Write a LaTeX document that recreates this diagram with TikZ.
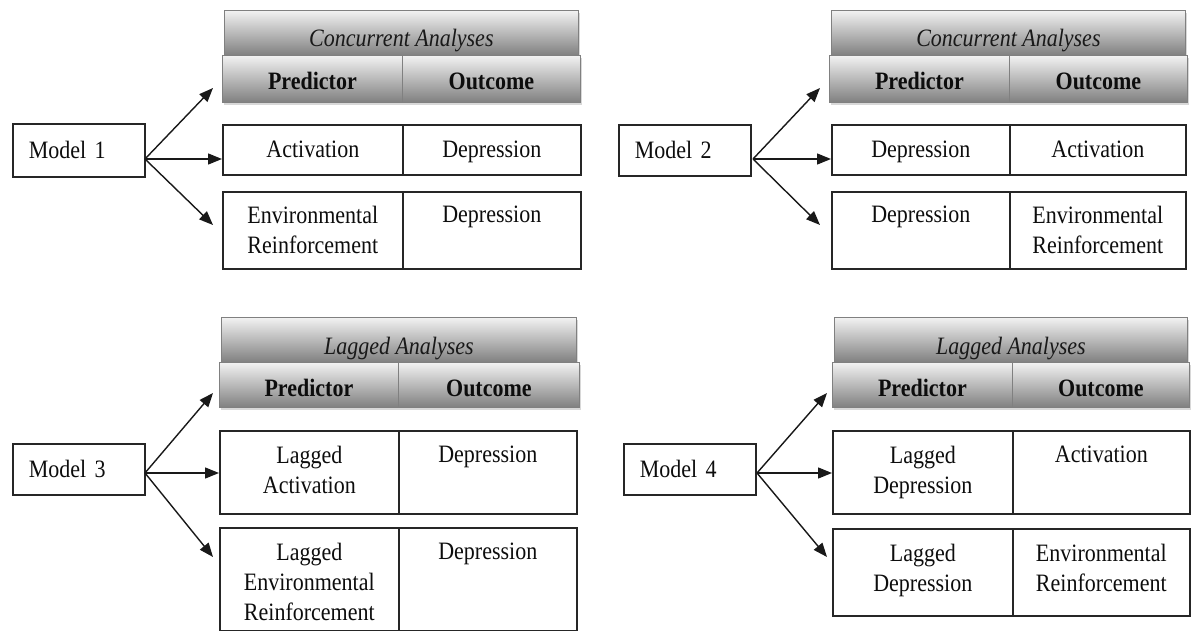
\documentclass[tikz,border=0pt]{standalone}
\usepackage{fontspec}
\setmainfont{Liberation Serif}[FakeStretch=0.88]
\usetikzlibrary{arrows.meta,shadows}
\tikzset{
  cell/.style={draw=black!85, line width=1.6pt, rectangle, inner sep=0pt, anchor=north west},
  hdr/.style={draw=black!50, line width=0.8pt, rectangle, inner sep=0pt, anchor=north west,
    top color=black!5, bottom color=black!50,
    drop shadow={shadow xshift=2pt, shadow yshift=-3pt, opacity=0.3}},
  txt/.style={font=\fontsize{25}{30}\selectfont, text=black!95, align=center, inner sep=0pt, anchor=north},
  htxt/.style={font=\fontsize{25}{30}\selectfont\bfseries, text=black!95, inner sep=0pt, anchor=base},
  ttxt/.style={font=\fontsize{25}{30}\selectfont\itshape, text=black!90, inner sep=0pt, anchor=base},
  model/.style={draw=black!85, line width=1.6pt, rectangle, anchor=north west,
    minimum width=132pt, text width=100pt, inner xsep=16pt, inner ysep=0pt, align=left,
    font=\fontsize{25}{30}\selectfont, text=black!95},
  arr/.style={line width=1.4pt, draw=black!90, -{Triangle[length=14pt,width=11pt]}}
}
\begin{document}
\begin{tikzpicture}[x=1pt,y=-1pt]
\useasboundingbox (0,0) rectangle (1193,631);
\fill[white] (0,0) rectangle (1193,631);

% ---------------- Panel 1 ----------------
\node[model, minimum height=53pt] (m1) at (12,123) {Model 1};
\node[hdr, minimum width=354pt, minimum height=45pt] (t1) at (224,10) {};
\node[ttxt] (t1x) at ([yshift=-37pt]t1.north) {Concurrent Analyses};
\node[hdr, minimum width=180pt, minimum height=47pt] (h1a) at (222,55) {};
\node[hdr, minimum width=178pt, minimum height=47pt] (h1b) at (402,55) {};
\node[htxt] (h1ax) at ([yshift=-35pt]h1a.north) {Predictor};
\node[htxt] (h1bx) at ([yshift=-35pt]h1b.north) {Outcome};
\node[cell, minimum width=180pt, minimum height=50pt] (r1a) at (222,124) {};
\node[cell, minimum width=178pt, minimum height=50pt] (r1b) at (402,124) {};
\node[cell, minimum width=180pt, minimum height=77pt] (s1a) at (222,191) {};
\node[cell, minimum width=178pt, minimum height=77pt] (s1b) at (402,191) {};
\node[txt] (r1ax) at ([yshift=-17pt]r1a.north) {Activation};
\node[txt] (r1bx) at ([yshift=-17pt]r1b.north) {Depression};
\node[txt] (s1ax) at ([yshift=-15pt]s1a.north) {Environmental\\Reinforcement};
\node[txt] (s1bx) at ([yshift=-15pt]s1b.north) {Depression};
\coordinate (o1) at (145,159);
\coordinate (u1) at (213,88);
\coordinate (d1) at (213,225);
\draw[arr] (o1) -- (u1);
\draw[arr] (o1) -- (o1 -| r1a.west);
\draw[arr] (o1) -- (d1);

% ---------------- Panel 2 ----------------
\node[model, minimum height=51pt] (m2) at (618,124) {Model 2};
\node[hdr, minimum width=354pt, minimum height=45pt] (t2) at (831,10) {};
\node[ttxt] (t2x) at ([yshift=-37pt]t2.north) {Concurrent Analyses};
\node[hdr, minimum width=180pt, minimum height=47pt] (h2a) at (829,55) {};
\node[hdr, minimum width=178pt, minimum height=47pt] (h2b) at (1009,55) {};
\node[htxt] (h2ax) at ([yshift=-35pt]h2a.north) {Predictor};
\node[htxt] (h2bx) at ([yshift=-35pt]h2b.north) {Outcome};
\node[cell, minimum width=178pt, minimum height=50pt] (r2a) at (831,124) {};
\node[cell, minimum width=176pt, minimum height=50pt] (r2b) at (1009,124) {};
\node[cell, minimum width=178pt, minimum height=77pt] (s2a) at (831,191) {};
\node[cell, minimum width=176pt, minimum height=77pt] (s2b) at (1009,191) {};
\node[txt] (r2ax) at ([yshift=-17pt]r2a.north) {Depression};
\node[txt] (r2bx) at ([yshift=-17pt]r2b.north) {Activation};
\node[txt] (s2ax) at ([yshift=-15pt]s2a.north) {Depression};
\node[txt] (s2bx) at ([yshift=-15pt]s2b.north) {Environmental\\Reinforcement};
\coordinate (o2) at (753,159);
\coordinate (u2) at (820,88);
\coordinate (d2) at (820,225);
\draw[arr] (o2) -- (u2);
\draw[arr] (o2) -- (o2 -| r2a.west);
\draw[arr] (o2) -- (d2);

% ---------------- Panel 3 ----------------
\node[model, minimum height=51pt] (m3) at (12,443) {Model 3};
\node[hdr, minimum width=355pt, minimum height=45pt] (t3) at (221,317) {};
\node[ttxt] (t3x) at ([yshift=-37pt]t3.north) {Lagged Analyses};
\node[hdr, minimum width=179pt, minimum height=45pt] (h3a) at (219,362) {};
\node[hdr, minimum width=181pt, minimum height=45pt] (h3b) at (398,362) {};
\node[htxt] (h3ax) at ([yshift=-34pt]h3a.north) {Predictor};
\node[htxt] (h3bx) at ([yshift=-34pt]h3b.north) {Outcome};
\node[cell, minimum width=179pt, minimum height=83pt] (r3a) at (219,430) {};
\node[cell, minimum width=178pt, minimum height=83pt] (r3b) at (398,430) {};
\node[cell, minimum width=179pt, minimum height=103pt] (s3a) at (219,527) {};
\node[cell, minimum width=178pt, minimum height=103pt] (s3b) at (398,527) {};
\node[txt] (r3ax) at ([yshift=-16pt]r3a.north) {Lagged\\Activation};
\node[txt] (r3bx) at ([yshift=-16pt]r3b.north) {Depression};
\node[txt] (s3ax) at ([yshift=-16pt]s3a.north) {Lagged\\Environmental\\Reinforcement};
\node[txt] (s3bx) at ([yshift=-16pt]s3b.north) {Depression};
\coordinate (o3) at (145,473);
\coordinate (u3) at (213,393);
\coordinate (d3) at (213,557);
\draw[arr] (o3) -- (u3);
\draw[arr] (o3) -- (o3 -| r3a.west);
\draw[arr] (o3) -- (d3);

% ---------------- Panel 4 ----------------
\node[model, minimum height=51pt] (m4) at (623,443) {Model 4};
\node[hdr, minimum width=353pt, minimum height=45pt] (t4) at (834,317) {};
\node[ttxt] (t4x) at ([yshift=-37pt]t4.north) {Lagged Analyses};
\node[hdr, minimum width=180pt, minimum height=45pt] (h4a) at (832,362) {};
\node[hdr, minimum width=177pt, minimum height=45pt] (h4b) at (1012,362) {};
\node[htxt] (h4ax) at ([yshift=-34pt]h4a.north) {Predictor};
\node[htxt] (h4bx) at ([yshift=-34pt]h4b.north) {Outcome};
\node[cell, minimum width=180pt, minimum height=83pt] (r4a) at (832,430) {};
\node[cell, minimum width=177pt, minimum height=83pt] (r4b) at (1012,430) {};
\node[cell, minimum width=180pt, minimum height=87pt] (s4a) at (832,528) {};
\node[cell, minimum width=177pt, minimum height=87pt] (s4b) at (1012,528) {};
\node[txt] (r4ax) at ([yshift=-16pt]r4a.north) {Lagged\\Depression};
\node[txt] (r4bx) at ([yshift=-16pt]r4b.north) {Activation};
\node[txt] (s4ax) at ([yshift=-16pt]s4a.north) {Lagged\\Depression};
\node[txt] (s4bx) at ([yshift=-16pt]s4b.north) {Environmental\\Reinforcement};
\coordinate (o4) at (757,473);
\coordinate (u4) at (827,393);
\coordinate (d4) at (827,557);
\draw[arr] (o4) -- (u4);
\draw[arr] (o4) -- (o4 -| r4a.west);
\draw[arr] (o4) -- (d4);
\end{tikzpicture}
\end{document}
